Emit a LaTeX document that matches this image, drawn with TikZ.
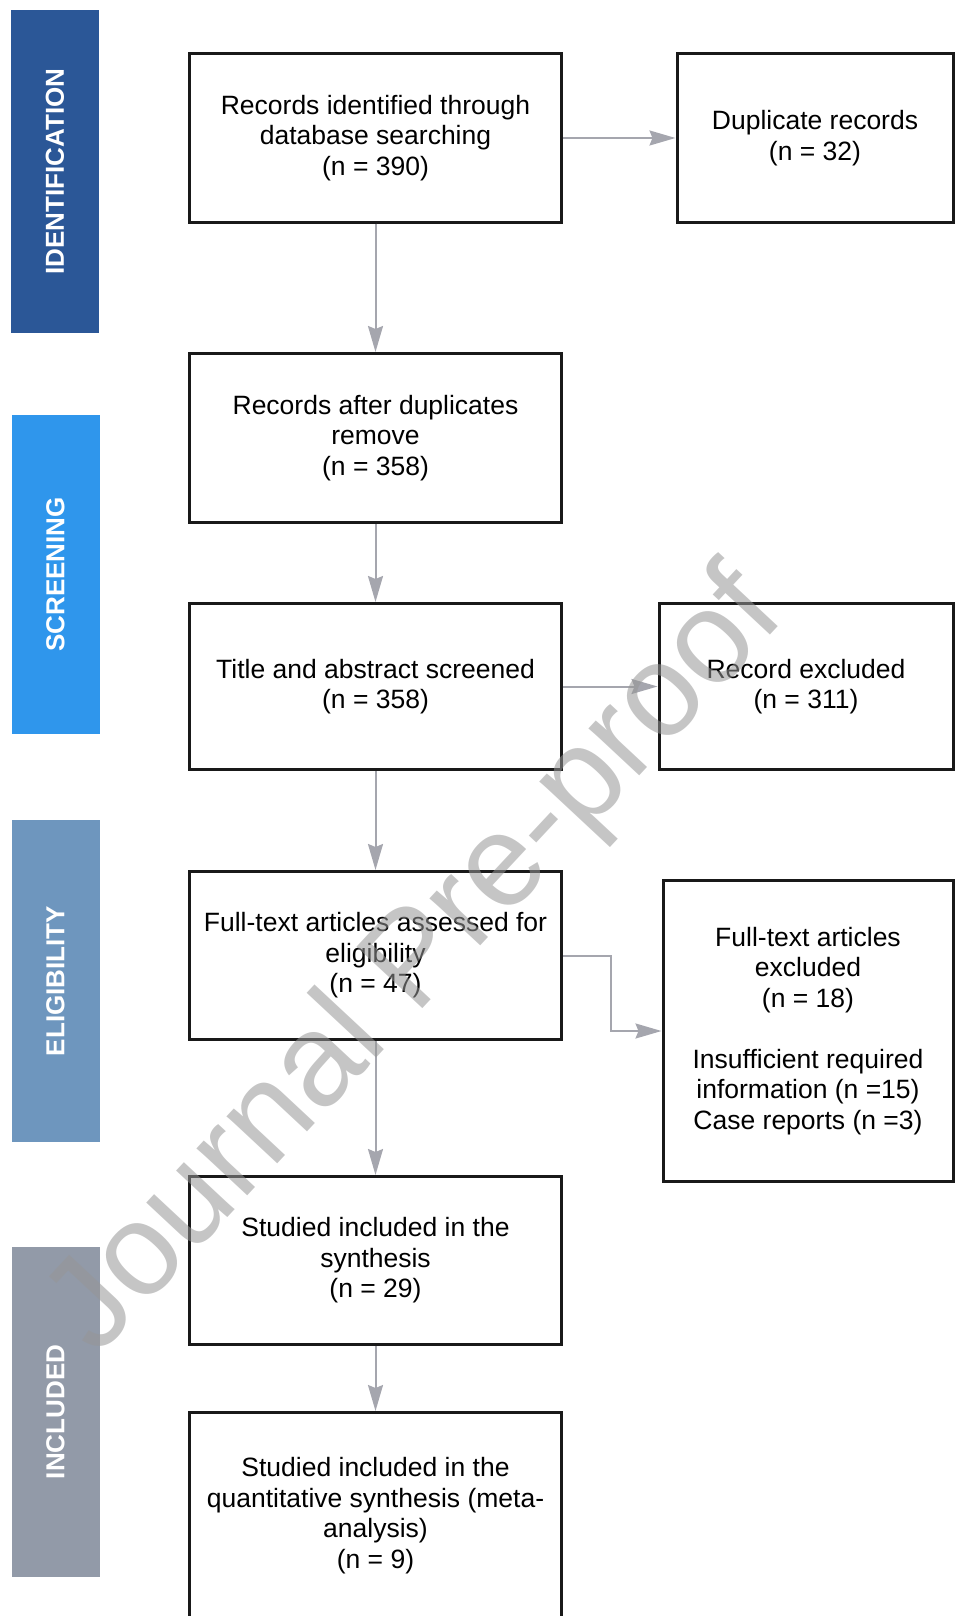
\documentclass[tikz,border=0pt]{standalone}
\usepackage{fontspec}
\setmainfont{Liberation Sans}
\usetikzlibrary{arrows.meta}
\definecolor{identblue}{RGB}{43,87,151}
\definecolor{screenblue}{RGB}{47,150,236}
\definecolor{eligblue}{RGB}{110,150,190}
\definecolor{inclgray}{RGB}{146,154,168}
\definecolor{flowgray}{RGB}{165,166,174}
\definecolor{boxline}{RGB}{25,25,25}
\definecolor{stampgray}{RGB}{150,150,150}

\begin{document}
\begin{tikzpicture}[x=1pt,y=-1pt,
  box/.style={draw=boxline, line width=3pt, rectangle, align=center, inner sep=0pt, font=\fontsize{26.5}{30.5}\selectfont},
  phase/.style={rectangle, rotate=90, minimum height=88pt, inner sep=0pt, text=white, font=\fontsize{26}{30}\selectfont\bfseries},
  flow/.style={-{Stealth[length=26pt,width=15pt,inset=3pt]}, line width=2pt, flowgray},
  stamp/.style={rotate=47, text=stampgray, opacity=0.55, font=\fontsize{131}{131}\selectfont}]
\useasboundingbox (0,0) rectangle (955,1616);
\clip (0,0) rectangle (955,1616);
\node[phase, fill=identblue, minimum width=323pt] (ident) at (55,171.5) {IDENTIFICATION};
\node[phase, fill=screenblue, minimum width=319pt] (screen) at (55.5,574.5) {SCREENING};
\node[phase, fill=eligblue, minimum width=322pt] (elig) at (55.5,981) {ELIGIBILITY};
\node[phase, fill=inclgray, minimum width=330pt] (incl) at (55.5,1412) {INCLUDED};
\node[box, minimum width=372pt, minimum height=168pt] (recid) at (375.5,138) {Records identified through\\database searching\\(n = 390)};
\node[box, minimum width=276pt, minimum height=168pt] (dup) at (815,138) {Duplicate records\\(n = 32)};
\node[box, minimum width=372pt, minimum height=169pt] (afterdup) at (375.5,438) {Records after duplicates\\remove\\(n = 358)};
\node[box, minimum width=372pt, minimum height=166pt] (screened) at (375.5,686.5) {Title and abstract screened\\(n = 358)};
\node[box, minimum width=294pt, minimum height=166pt] (excl) at (806,686.5) {Record excluded\\(n = 311)};
\node[box, minimum width=372pt, minimum height=168pt] (fulltext) at (375.5,955.5) {Full-text articles assessed for\\eligibility\\(n = 47)};
\node[box, minimum width=290pt, minimum height=301pt] (ftexcl) at (808,1031) {Full-text articles\\excluded\\(n = 18)\\[30.5pt]Insufficient required\\information (n =15)\\Case reports (n =3)};
\node[box, minimum width=372pt, minimum height=168pt] (synth) at (375.5,1260.5) {Studied included in the\\synthesis\\(n = 29)};
\node[box, minimum width=372pt, minimum height=206pt] (meta) at (375.5,1515.5) {Studied included in the\\quantitative synthesis (meta-\\analysis)\\(n = 9)};
\draw[flow] (recid) -- (dup);
\draw[flow] (recid) -- (afterdup);
\draw[flow] (afterdup) -- (screened);
\draw[flow] (screened) -- (excl);
\draw[flow] (screened) -- (fulltext);
\draw[flow] (fulltext.east) -- ++(48,0) |- (ftexcl.west);
\draw[flow] (fulltext) -- (synth);
\draw[flow] (synth) -- (meta);
\node[stamp] (wmark) at (418,964) {Journal Pre-proof};
\end{tikzpicture}
\end{document}
